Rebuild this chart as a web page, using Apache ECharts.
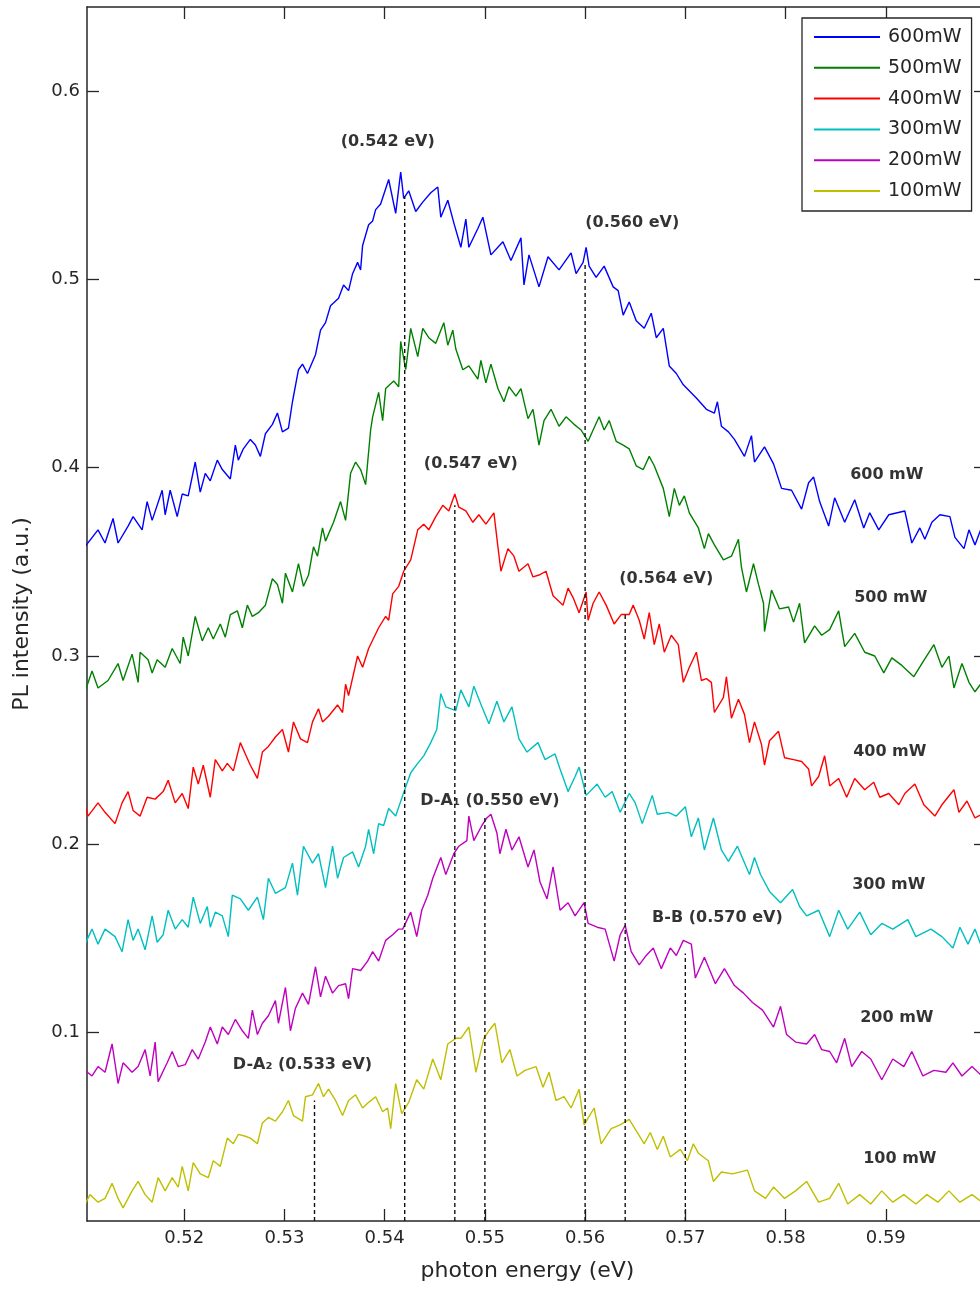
<!DOCTYPE html>
<html>
<head>
<meta charset="utf-8">
<script src="https://cdn.jsdelivr.net/npm/echarts@6/dist/echarts.min.js"></script>
<style>
  html, body { margin: 0; padding: 0; background: #ffffff; }
  #chart { width: 980px; height: 1289px; }
</style>
</head>
<body>
<div id="chart"></div>
<script>
// Photoluminescence spectra at six excitation powers: [photon energy (eV), PL intensity (a.u.)]
const pl600 = [[0.5101,0.358],[0.5114,0.367],[0.5121,0.360],[0.5129,0.373],[0.5134,0.360],[0.5144,0.369],[0.5149,0.374],[0.5158,0.367],[0.5163,0.382],[0.5168,0.372],[0.5178,0.388],[0.5181,0.375],[0.5186,0.388],[0.5193,0.374],[0.5198,0.386],[0.5204,0.385],[0.5211,0.403],[0.5216,0.387],[0.5221,0.397],[0.5226,0.393],[0.5233,0.404],[0.5238,0.399],[0.5246,0.394],[0.5251,0.412],[0.5254,0.404],[0.5259,0.410],[0.5266,0.415],[0.5271,0.412],[0.5276,0.406],[0.5281,0.418],[0.5288,0.423],[0.5293,0.429],[0.5298,0.419],[0.5304,0.421],[0.5308,0.435],[0.5314,0.452],[0.5318,0.455],[0.5323,0.450],[0.5331,0.460],[0.5336,0.473],[0.5341,0.477],[0.5346,0.486],[0.5354,0.490],[0.5359,0.497],[0.5364,0.494],[0.5368,0.503],[0.5373,0.509],[0.5376,0.505],[0.5378,0.518],[0.5384,0.529],[0.5388,0.531],[0.5391,0.537],[0.5396,0.540],[0.5404,0.553],[0.5411,0.535],[0.5416,0.557],[0.5419,0.543],[0.5424,0.547],[0.5431,0.536],[0.5438,0.541],[0.5446,0.546],[0.5453,0.549],[0.5456,0.533],[0.5463,0.542],[0.5469,0.530],[0.5476,0.517],[0.5481,0.532],[0.5484,0.517],[0.5493,0.527],[0.5498,0.533],[0.5506,0.513],[0.5518,0.520],[0.5526,0.510],[0.5536,0.522],[0.5539,0.497],[0.5544,0.513],[0.5554,0.496],[0.5563,0.512],[0.5574,0.505],[0.5586,0.514],[0.5591,0.503],[0.5598,0.509],[0.5601,0.517],[0.5604,0.507],[0.5611,0.501],[0.5619,0.507],[0.5628,0.496],[0.5633,0.494],[0.5638,0.481],[0.5644,0.488],[0.5651,0.478],[0.5659,0.474],[0.5666,0.482],[0.5671,0.469],[0.5678,0.474],[0.5684,0.454],[0.5691,0.450],[0.5698,0.444],[0.5711,0.437],[0.5721,0.431],[0.5729,0.429],[0.5732,0.435],[0.5736,0.422],[0.5743,0.419],[0.5749,0.415],[0.5759,0.406],[0.5766,0.417],[0.5769,0.403],[0.5779,0.411],[0.5788,0.402],[0.5796,0.389],[0.5806,0.388],[0.5816,0.378],[0.5823,0.392],[0.5828,0.395],[0.5834,0.382],[0.5843,0.369],[0.5849,0.384],[0.5859,0.371],[0.5869,0.383],[0.5878,0.368],[0.5884,0.376],[0.5893,0.367],[0.5903,0.375],[0.5919,0.377],[0.5926,0.360],[0.5934,0.368],[0.5939,0.362],[0.5946,0.371],[0.5954,0.375],[0.5964,0.374],[0.5969,0.363],[0.5978,0.357],[0.5983,0.367],[0.5989,0.359],[0.5996,0.369],[0.6002,0.362]];

const pl500 = [[0.5101,0.281],[0.5108,0.292],[0.5114,0.283],[0.5124,0.287],[0.5134,0.296],[0.5139,0.287],[0.5148,0.301],[0.5154,0.286],[0.5156,0.302],[0.5164,0.298],[0.5168,0.291],[0.5173,0.298],[0.5181,0.294],[0.5188,0.304],[0.5196,0.296],[0.5199,0.310],[0.5204,0.300],[0.5211,0.321],[0.5218,0.308],[0.5224,0.315],[0.5229,0.309],[0.5236,0.317],[0.5241,0.310],[0.5246,0.322],[0.5253,0.324],[0.5258,0.315],[0.5263,0.327],[0.5268,0.321],[0.5274,0.323],[0.5281,0.327],[0.5288,0.341],[0.5293,0.338],[0.5298,0.328],[0.5301,0.344],[0.5308,0.334],[0.5314,0.349],[0.5319,0.337],[0.5324,0.343],[0.5329,0.358],[0.5333,0.353],[0.5338,0.368],[0.5341,0.361],[0.5349,0.371],[0.5356,0.382],[0.5361,0.372],[0.5366,0.397],[0.5371,0.403],[0.5376,0.399],[0.5381,0.391],[0.5386,0.420],[0.5388,0.427],[0.5394,0.440],[0.5398,0.425],[0.5401,0.442],[0.5409,0.446],[0.5414,0.443],[0.5416,0.467],[0.5421,0.452],[0.5426,0.474],[0.5433,0.459],[0.5438,0.474],[0.5444,0.469],[0.5451,0.466],[0.5459,0.477],[0.5463,0.465],[0.5468,0.473],[0.5471,0.463],[0.5478,0.452],[0.5484,0.454],[0.5493,0.447],[0.5496,0.457],[0.5501,0.445],[0.5506,0.455],[0.5513,0.442],[0.5519,0.435],[0.5524,0.443],[0.5531,0.438],[0.5536,0.442],[0.5543,0.426],[0.5548,0.431],[0.5554,0.412],[0.5559,0.425],[0.5566,0.431],[0.5574,0.422],[0.5581,0.427],[0.5589,0.423],[0.5596,0.420],[0.5603,0.414],[0.5608,0.420],[0.5614,0.427],[0.5619,0.420],[0.5624,0.425],[0.5631,0.414],[0.5638,0.412],[0.5644,0.410],[0.5651,0.401],[0.5658,0.399],[0.5664,0.406],[0.5669,0.401],[0.5678,0.389],[0.5684,0.374],[0.5689,0.389],[0.5694,0.380],[0.5699,0.385],[0.5704,0.376],[0.5713,0.368],[0.5719,0.357],[0.5723,0.365],[0.5729,0.359],[0.5738,0.351],[0.5746,0.353],[0.5753,0.362],[0.5756,0.347],[0.5761,0.334],[0.5768,0.349],[0.5773,0.338],[0.5778,0.328],[0.5779,0.313],[0.5786,0.335],[0.5794,0.325],[0.5803,0.326],[0.5808,0.318],[0.5814,0.328],[0.5819,0.307],[0.5829,0.316],[0.5836,0.311],[0.5844,0.314],[0.5853,0.324],[0.5859,0.305],[0.5869,0.312],[0.5879,0.302],[0.5889,0.300],[0.5898,0.291],[0.5906,0.299],[0.5916,0.295],[0.5928,0.289],[0.5936,0.296],[0.5948,0.306],[0.5956,0.294],[0.5963,0.300],[0.5968,0.283],[0.5976,0.296],[0.5983,0.286],[0.5989,0.281],[0.5996,0.286],[0.6002,0.282]];

const pl400 = [[0.5101,0.221],[0.5104,0.215],[0.5114,0.222],[0.5121,0.217],[0.5131,0.211],[0.5138,0.222],[0.5144,0.228],[0.5149,0.218],[0.5156,0.215],[0.5163,0.225],[0.5171,0.224],[0.5179,0.228],[0.5184,0.234],[0.5191,0.222],[0.5198,0.227],[0.5204,0.219],[0.5209,0.241],[0.5214,0.232],[0.5219,0.242],[0.5226,0.225],[0.5231,0.245],[0.5238,0.239],[0.5243,0.243],[0.5249,0.239],[0.5256,0.254],[0.5261,0.248],[0.5266,0.242],[0.5273,0.235],[0.5278,0.249],[0.5284,0.252],[0.5291,0.257],[0.5298,0.261],[0.5304,0.249],[0.5309,0.265],[0.5316,0.256],[0.5323,0.254],[0.5328,0.265],[0.5334,0.272],[0.5338,0.265],[0.5344,0.268],[0.5353,0.274],[0.5358,0.270],[0.5361,0.285],[0.5364,0.279],[0.5373,0.300],[0.5378,0.294],[0.5384,0.304],[0.5394,0.315],[0.5401,0.321],[0.5404,0.319],[0.5408,0.333],[0.5414,0.337],[0.5419,0.345],[0.5426,0.351],[0.5433,0.367],[0.5439,0.370],[0.5444,0.367],[0.5451,0.374],[0.5458,0.380],[0.5464,0.377],[0.5470,0.386],[0.5474,0.379],[0.5481,0.377],[0.5488,0.371],[0.5494,0.375],[0.5501,0.370],[0.5509,0.376],[0.5513,0.358],[0.5516,0.345],[0.5523,0.357],[0.5529,0.353],[0.5534,0.345],[0.5543,0.349],[0.5548,0.342],[0.5554,0.343],[0.5561,0.345],[0.5568,0.332],[0.5578,0.327],[0.5583,0.336],[0.5588,0.331],[0.5594,0.323],[0.5601,0.334],[0.5603,0.319],[0.5608,0.328],[0.5614,0.334],[0.5621,0.327],[0.5629,0.317],[0.5636,0.322],[0.5644,0.322],[0.5648,0.327],[0.5654,0.319],[0.5659,0.309],[0.5664,0.323],[0.5669,0.306],[0.5674,0.317],[0.5679,0.302],[0.5686,0.311],[0.5693,0.306],[0.5698,0.286],[0.5704,0.294],[0.5711,0.302],[0.5716,0.287],[0.5721,0.288],[0.5726,0.286],[0.5729,0.270],[0.5738,0.278],[0.5741,0.289],[0.5746,0.267],[0.5753,0.277],[0.5759,0.269],[0.5764,0.254],[0.5769,0.265],[0.5776,0.253],[0.5779,0.242],[0.5784,0.255],[0.5793,0.260],[0.5799,0.246],[0.5808,0.245],[0.5816,0.244],[0.5823,0.240],[0.5826,0.231],[0.5833,0.236],[0.5839,0.247],[0.5844,0.231],[0.5853,0.235],[0.5861,0.225],[0.5869,0.235],[0.5879,0.229],[0.5888,0.233],[0.5894,0.225],[0.5903,0.227],[0.5913,0.221],[0.5919,0.227],[0.5929,0.232],[0.5938,0.221],[0.5949,0.215],[0.5956,0.221],[0.5968,0.229],[0.5973,0.217],[0.5981,0.223],[0.5989,0.214],[0.5996,0.216],[0.6002,0.217]];

const pl300 = [[0.5101,0.147],[0.5108,0.155],[0.5114,0.147],[0.5121,0.155],[0.5131,0.151],[0.5138,0.143],[0.5144,0.160],[0.5149,0.149],[0.5154,0.155],[0.5161,0.144],[0.5168,0.162],[0.5173,0.148],[0.5179,0.152],[0.5184,0.165],[0.5191,0.155],[0.5198,0.160],[0.5204,0.156],[0.5209,0.172],[0.5216,0.158],[0.5223,0.167],[0.5226,0.156],[0.5231,0.164],[0.5238,0.162],[0.5244,0.151],[0.5248,0.173],[0.5256,0.171],[0.5264,0.165],[0.5273,0.172],[0.5279,0.160],[0.5284,0.182],[0.5291,0.174],[0.5301,0.177],[0.5308,0.190],[0.5313,0.173],[0.5319,0.199],[0.5328,0.190],[0.5334,0.195],[0.5341,0.177],[0.5348,0.199],[0.5353,0.182],[0.5359,0.193],[0.5368,0.196],[0.5374,0.188],[0.5381,0.199],[0.5384,0.208],[0.5389,0.195],[0.5394,0.211],[0.5399,0.210],[0.5404,0.219],[0.5411,0.215],[0.5418,0.226],[0.5426,0.238],[0.5433,0.243],[0.5439,0.247],[0.5446,0.254],[0.5452,0.261],[0.5456,0.280],[0.5461,0.273],[0.5471,0.271],[0.5476,0.282],[0.5484,0.273],[0.5489,0.284],[0.5497,0.273],[0.5504,0.264],[0.5512,0.276],[0.5519,0.265],[0.5527,0.273],[0.5534,0.256],[0.5542,0.249],[0.5553,0.254],[0.5560,0.245],[0.5570,0.248],[0.5575,0.240],[0.5583,0.228],[0.5590,0.236],[0.5594,0.241],[0.5601,0.226],[0.5612,0.232],[0.5620,0.225],[0.5627,0.228],[0.5635,0.217],[0.5644,0.227],[0.5650,0.222],[0.5657,0.211],[0.5667,0.226],[0.5672,0.216],[0.5683,0.217],[0.5691,0.215],[0.5700,0.220],[0.5706,0.204],[0.5713,0.214],[0.5719,0.197],[0.5728,0.214],[0.5736,0.197],[0.5743,0.191],[0.5752,0.199],[0.5764,0.184],[0.5769,0.193],[0.5775,0.184],[0.5784,0.175],[0.5795,0.169],[0.5807,0.176],[0.5814,0.167],[0.5821,0.162],[0.5833,0.165],[0.5844,0.151],[0.5853,0.165],[0.5862,0.155],[0.5874,0.164],[0.5885,0.152],[0.5896,0.158],[0.5907,0.155],[0.5922,0.160],[0.5930,0.151],[0.5945,0.155],[0.5956,0.151],[0.5967,0.145],[0.5974,0.156],[0.5982,0.147],[0.5989,0.155],[0.5996,0.145],[0.6002,0.149]];

const pl200 = [[0.5101,0.080],[0.5108,0.077],[0.5114,0.082],[0.5121,0.079],[0.5128,0.094],[0.5134,0.073],[0.5139,0.084],[0.5148,0.079],[0.5154,0.082],[0.5161,0.091],[0.5166,0.077],[0.5171,0.095],[0.5174,0.074],[0.5183,0.084],[0.5188,0.090],[0.5194,0.082],[0.5201,0.083],[0.5208,0.091],[0.5214,0.086],[0.5221,0.095],[0.5226,0.103],[0.5233,0.094],[0.5238,0.103],[0.5244,0.099],[0.5251,0.107],[0.5258,0.101],[0.5264,0.097],[0.5268,0.112],[0.5273,0.099],[0.5278,0.105],[0.5284,0.109],[0.5291,0.117],[0.5294,0.105],[0.5301,0.124],[0.5306,0.101],[0.5311,0.113],[0.5318,0.121],[0.5324,0.115],[0.5331,0.135],[0.5336,0.119],[0.5341,0.130],[0.5348,0.121],[0.5354,0.125],[0.5361,0.126],[0.5364,0.118],[0.5368,0.134],[0.5376,0.133],[0.5383,0.138],[0.5388,0.143],[0.5394,0.138],[0.5401,0.149],[0.5408,0.152],[0.5414,0.155],[0.5418,0.155],[0.5426,0.164],[0.5432,0.151],[0.5437,0.165],[0.5443,0.173],[0.5448,0.182],[0.5456,0.193],[0.5461,0.184],[0.5469,0.195],[0.5474,0.199],[0.5482,0.202],[0.5484,0.215],[0.5489,0.202],[0.5497,0.210],[0.5502,0.214],[0.5506,0.216],[0.5512,0.206],[0.5515,0.195],[0.5521,0.208],[0.5527,0.197],[0.5534,0.204],[0.5543,0.188],[0.5549,0.197],[0.5555,0.180],[0.5562,0.171],[0.5568,0.188],[0.5575,0.165],[0.5583,0.169],[0.5590,0.162],[0.5599,0.169],[0.5603,0.158],[0.5612,0.156],[0.5620,0.155],[0.5629,0.138],[0.5635,0.152],[0.5640,0.157],[0.5646,0.143],[0.5654,0.136],[0.5661,0.141],[0.5668,0.145],[0.5676,0.134],[0.5685,0.145],[0.5691,0.141],[0.5698,0.149],[0.5706,0.147],[0.5710,0.129],[0.5719,0.140],[0.5730,0.126],[0.5739,0.134],[0.5749,0.125],[0.5758,0.121],[0.5767,0.116],[0.5777,0.112],[0.5788,0.103],[0.5795,0.114],[0.5801,0.099],[0.5810,0.095],[0.5821,0.094],[0.5829,0.099],[0.5836,0.091],[0.5844,0.090],[0.5851,0.084],[0.5859,0.097],[0.5866,0.082],[0.5876,0.090],[0.5885,0.086],[0.5896,0.075],[0.5907,0.086],[0.5918,0.082],[0.5926,0.090],[0.5937,0.077],[0.5948,0.080],[0.5960,0.079],[0.5967,0.084],[0.5976,0.077],[0.5986,0.082],[0.5996,0.077],[0.6002,0.079]];

const pl100 = [[0.5101,0.009],[0.5106,0.014],[0.5114,0.010],[0.5121,0.012],[0.5128,0.020],[0.5134,0.012],[0.5139,0.007],[0.5148,0.016],[0.5154,0.021],[0.5161,0.014],[0.5168,0.010],[0.5174,0.023],[0.5181,0.016],[0.5188,0.023],[0.5194,0.018],[0.5198,0.029],[0.5204,0.016],[0.5209,0.031],[0.5216,0.025],[0.5224,0.023],[0.5229,0.032],[0.5236,0.029],[0.5243,0.044],[0.5249,0.041],[0.5254,0.046],[0.5261,0.045],[0.5266,0.044],[0.5273,0.041],[0.5278,0.052],[0.5284,0.055],[0.5291,0.053],[0.5298,0.058],[0.5304,0.064],[0.5309,0.056],[0.5318,0.053],[0.5321,0.066],[0.5328,0.067],[0.5334,0.073],[0.5339,0.066],[0.5344,0.070],[0.5351,0.064],[0.5358,0.056],[0.5364,0.064],[0.5371,0.067],[0.5378,0.060],[0.5384,0.063],[0.5391,0.066],[0.5398,0.058],[0.5403,0.060],[0.5406,0.049],[0.5411,0.073],[0.5417,0.057],[0.5424,0.063],[0.5432,0.075],[0.5439,0.070],[0.5448,0.086],[0.5456,0.075],[0.5463,0.094],[0.5471,0.097],[0.5476,0.097],[0.5484,0.103],[0.5491,0.079],[0.5499,0.097],[0.5504,0.101],[0.5510,0.105],[0.5517,0.084],[0.5525,0.091],[0.5532,0.077],[0.5540,0.080],[0.5551,0.082],[0.5558,0.071],[0.5564,0.079],[0.5571,0.064],[0.5579,0.066],[0.5586,0.060],[0.5594,0.070],[0.5599,0.051],[0.5609,0.060],[0.5616,0.041],[0.5626,0.049],[0.5635,0.051],[0.5644,0.054],[0.5652,0.047],[0.5659,0.041],[0.5665,0.047],[0.5672,0.038],[0.5678,0.045],[0.5685,0.034],[0.5695,0.038],[0.5702,0.032],[0.5708,0.041],[0.5713,0.036],[0.5723,0.032],[0.5728,0.021],[0.5736,0.026],[0.5747,0.025],[0.5762,0.027],[0.5769,0.016],[0.5780,0.012],[0.5788,0.018],[0.5799,0.012],[0.5810,0.016],[0.5821,0.021],[0.5833,0.010],[0.5844,0.012],[0.5853,0.020],[0.5862,0.009],[0.5874,0.014],[0.5885,0.009],[0.5896,0.016],[0.5907,0.010],[0.5918,0.014],[0.5930,0.009],[0.5941,0.014],[0.5952,0.010],[0.5963,0.016],[0.5974,0.010],[0.5986,0.014],[0.5996,0.010],[0.6002,0.012]];

// Legend entries and the curve each one names
const powerNames = ['600mW', '500mW', '400mW', '300mW', '200mW', '100mW'];
const powerSpectra = [pl600, pl500, pl400, pl300, pl200, pl100];

// Axis ticks
const xTicks = [0.52, 0.53, 0.54, 0.55, 0.56, 0.57, 0.58, 0.59];
const yTicks = [0.1, 0.2, 0.3, 0.4, 0.5, 0.6];

// Emission peaks: energy (eV), height reached by the marker line, transition name
const peakEnergies = [0.542, 0.560, 0.547, 0.564, 0.550, 0.570, 0.533];
const peakHeights = [0.544, 0.508, 0.380, 0.322, 0.215, 0.142, 0.064];
const peakNames = ['', '', '', '', 'D-A\u2081 ', 'B-B ', 'D-A\u2082 '];
// where each peak caption sits, in [energy, intensity]
const peakCaptionAt = [[0.5403, 0.573], [0.5647, 0.530], [0.5486, 0.402], [0.5681, 0.341], [0.5505, 0.223], [0.5732, 0.161], [0.5318, 0.083]];

// Power tags written beside each curve
const curveTags = ['600 mW', '500 mW', '400 mW', '300 mW', '200 mW', '100 mW'];
const curveTagAt = [[0.5901, 0.396], [0.5905, 0.331], [0.5904, 0.249], [0.5903, 0.1785], [0.5911, 0.108], [0.5914, 0.033]];

// ---------- styling ----------
const COLORS = ['#0000ff', '#008000', '#ff0000', '#00bfbf', '#bf00bf', '#bfbf00'];
const INK = '#262626';
const FONT = 'DejaVu Sans';
const X_MIN = 0.5103, X_MAX = 0.6;
const Y_MIN = 0, Y_MAX = 0.6446;

const frameLine = { show: true, onZero: false, lineStyle: { color: INK, width: 1.5 } };
const tickStyle = { color: INK, width: 1.3 };

const series = [];

powerSpectra.forEach((data, i) => {
  series.push({
    name: powerNames[i],
    type: 'line',
    data: data,
    symbol: 'none',
    showSymbol: false,
    clip: true,
    color: COLORS[i],
    lineStyle: { color: COLORS[i], width: 1.4 },
    z: 2
  });
});

// dashed peak markers from the baseline up to each peak
peakEnergies.forEach((e, i) => {
  series.push({
    type: 'line',
    data: [[e, 0], [e, peakHeights[i]]],
    symbol: 'none',
    silent: true,
    clip: true,
    lineStyle: { color: '#111111', width: 1.4, type: [4, 3] },
    z: 3
  });
});

const captionLabel = {
  show: true,
  position: 'inside',
  formatter: '{b}',
  fontFamily: FONT,
  fontWeight: 'bold',
  fontSize: 16,
  color: '#000000'
};

// peak captions
series.push({
  type: 'scatter',
  silent: true,
  symbolSize: 1,
  itemStyle: { color: 'rgba(0,0,0,0)' },
  data: peakEnergies.map((e, i) => ({
    value: peakCaptionAt[i],
    name: peakNames[i] + '(' + e.toFixed(3) + ' eV)'
  })),
  label: captionLabel,
  z: 5
});

// power tags
series.push({
  type: 'scatter',
  silent: true,
  symbolSize: 1,
  itemStyle: { color: 'rgba(0,0,0,0)' },
  data: curveTags.map((t, i) => ({ value: curveTagAt[i], name: t })),
  label: captionLabel,
  z: 5
});

const option = {
  animation: false,
  backgroundColor: '#ffffff',
  grid: { left: 87, top: 7, width: 899, height: 1214, containLabel: false, outerBoundsMode: 'none' },
  legend: {
    data: powerNames,
    orient: 'vertical',
    left: 802,
    top: 18,
    icon: 'rect',
    itemWidth: 66,
    itemHeight: 2,
    itemGap: 10.8,
    padding: [9, 10, 10, 12],
    borderColor: INK,
    borderWidth: 1.3,
    backgroundColor: '#ffffff',
    selectedMode: false,
    textStyle: { fontFamily: FONT, fontSize: 19, color: INK, lineHeight: 20, padding: [0, 0, 0, 3] }
  },
  xAxis: [
    {
      type: 'value',
      position: 'bottom',
      min: X_MIN,
      max: X_MAX,
      axisLine: frameLine,
      axisTick: { show: true, inside: true, length: 12, lineStyle: tickStyle, customValues: xTicks },
      axisLabel: {
        show: true,
        customValues: xTicks,
        formatter: v => v.toFixed(2),
        fontFamily: FONT,
        fontSize: 18,
        color: INK,
        margin: 8
      },
      splitLine: { show: false },
      name: 'photon energy (eV)',
      nameLocation: 'middle',
      nameGap: 39,
      nameMoveOverlap: false,
      nameTextStyle: { fontFamily: FONT, fontSize: 22, color: INK, lineHeight: 22, padding: [0, 18, 0, 0] }
    },
    {
      type: 'value',
      position: 'top',
      min: X_MIN,
      max: X_MAX,
      axisLine: frameLine,
      axisTick: { show: true, inside: true, length: 12, lineStyle: tickStyle, customValues: xTicks },
      axisLabel: { show: false },
      splitLine: { show: false }
    }
  ],
  yAxis: [
    {
      type: 'value',
      position: 'left',
      min: Y_MIN,
      max: Y_MAX,
      axisLine: frameLine,
      axisTick: { show: true, inside: true, length: 12, lineStyle: tickStyle, customValues: yTicks },
      axisLabel: {
        show: true,
        customValues: yTicks,
        formatter: v => String(Math.round(v * 10) / 10),
        fontFamily: FONT,
        fontSize: 18,
        color: INK,
        margin: 7
      },
      splitLine: { show: false },
      name: 'PL intensity (a.u.)',
      nameLocation: 'middle',
      nameGap: 54,
      nameMoveOverlap: false,
      nameTextStyle: { fontFamily: FONT, fontSize: 22, color: INK, lineHeight: 22 }
    },
    {
      type: 'value',
      position: 'right',
      min: Y_MIN,
      max: Y_MAX,
      axisLine: frameLine,
      axisTick: { show: true, inside: true, length: 12, lineStyle: tickStyle, customValues: yTicks },
      axisLabel: { show: false },
      splitLine: { show: false }
    }
  ],
  series: series
};

const chart = echarts.init(document.getElementById('chart'), null, { renderer: 'canvas' });
chart.setOption(option);
</script>
</body>
</html>
